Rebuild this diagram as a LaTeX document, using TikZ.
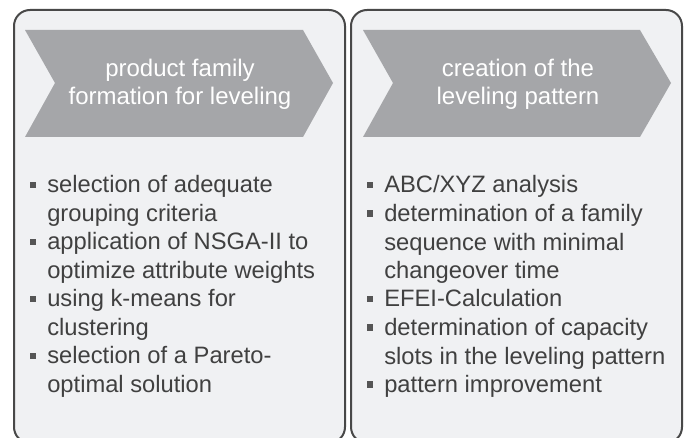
\documentclass[tikz,border=0pt]{standalone}
\usepackage{fontspec}
\setmainfont{Liberation Sans}
\definecolor{boxfill}{RGB}{240,241,243}
\definecolor{boxline}{RGB}{72,72,72}
\definecolor{chevfill}{RGB}{165,166,169}
\definecolor{bodytext}{RGB}{64,64,64}
\definecolor{bulletcol}{RGB}{85,85,85}
\newcommand\itemlines[1]{\parbox[t]{230pt}{\raggedright #1}}
\tikzset{
  phasebox/.style={draw=boxline,fill=boxfill,line width=1.5pt,rounded corners=12pt},
  chevron/.style={fill=chevfill,draw=none},
  headtext/.style={text=white,align=center,inner sep=0pt,font=\fontsize{18}{21}\selectfont},
  itemtext/.style={text=bodytext,inner sep=0pt,anchor=base west,font=\fontsize{17.8}{21.4}\selectfont},
  bul/.style={fill=bulletcol,minimum size=4.9pt,inner sep=0pt}
}
\begin{document}
\begin{tikzpicture}[x=0.75pt,y=0.75pt,yscale=-1,xscale=1]
\useasboundingbox (0,0) rectangle (686,438);
\clip (0,0) rectangle (686,438);

%Shape: Rounded Rectangle [id:left]
\draw[phasebox] (14,10) rectangle (345,443);
%Shape: Rounded Rectangle [id:right]
\draw[phasebox] (351,10) rectangle (682,443);

%Shape: Chevron [id:left]
\fill[chevron] (25,30) -- (303,30) -- (333,83) -- (303,137) -- (25,137) -- (55,83) -- cycle;
%Shape: Chevron [id:right]
\fill[chevron] (363,30) -- (640,30) -- (671,83) -- (640,137) -- (363,137) -- (393,83) -- cycle;

% Text Node
\node[headtext] (hdl) at (180,84) {product family\\formation for leveling};
% Text Node
\node[headtext] (hdr) at (518,84) {creation of the\\leveling pattern};

% Text Node
\node[itemtext] (la) at (47,193) {\itemlines{selection of adequate\\grouping criteria}};
\node[itemtext] (lb) at (47,250) {\itemlines{application of NSGA-II to\\optimize attribute weights}};
\node[itemtext] (lc) at (47,307) {\itemlines{using k-means for\\clustering}};
\node[itemtext] (ld) at (47,364) {\itemlines{selection of a Pareto-\\optimal solution}};

% Text Node
\node[itemtext] (ra) at (384,193) {\itemlines{ABC/XYZ analysis}};
\node[itemtext] (rb) at (384,221.5) {\itemlines{determination of a family\\sequence with minimal\\changeover time}};
\node[itemtext] (rc) at (384,307) {\itemlines{EFEI-Calculation}};
\node[itemtext] (rd) at (384,335.5) {\itemlines{determination of capacity\\slots in the leveling pattern}};
\node[itemtext] (re) at (384,392.5) {\itemlines{pattern improvement}};

% Bullets
\foreach \n in {la,lb,lc,ld,ra,rb,rc,rd,re}
  \node[bul] at ([xshift=-10.5pt,yshift=-6pt]\n.base west) {};

\end{tikzpicture}
\end{document}
